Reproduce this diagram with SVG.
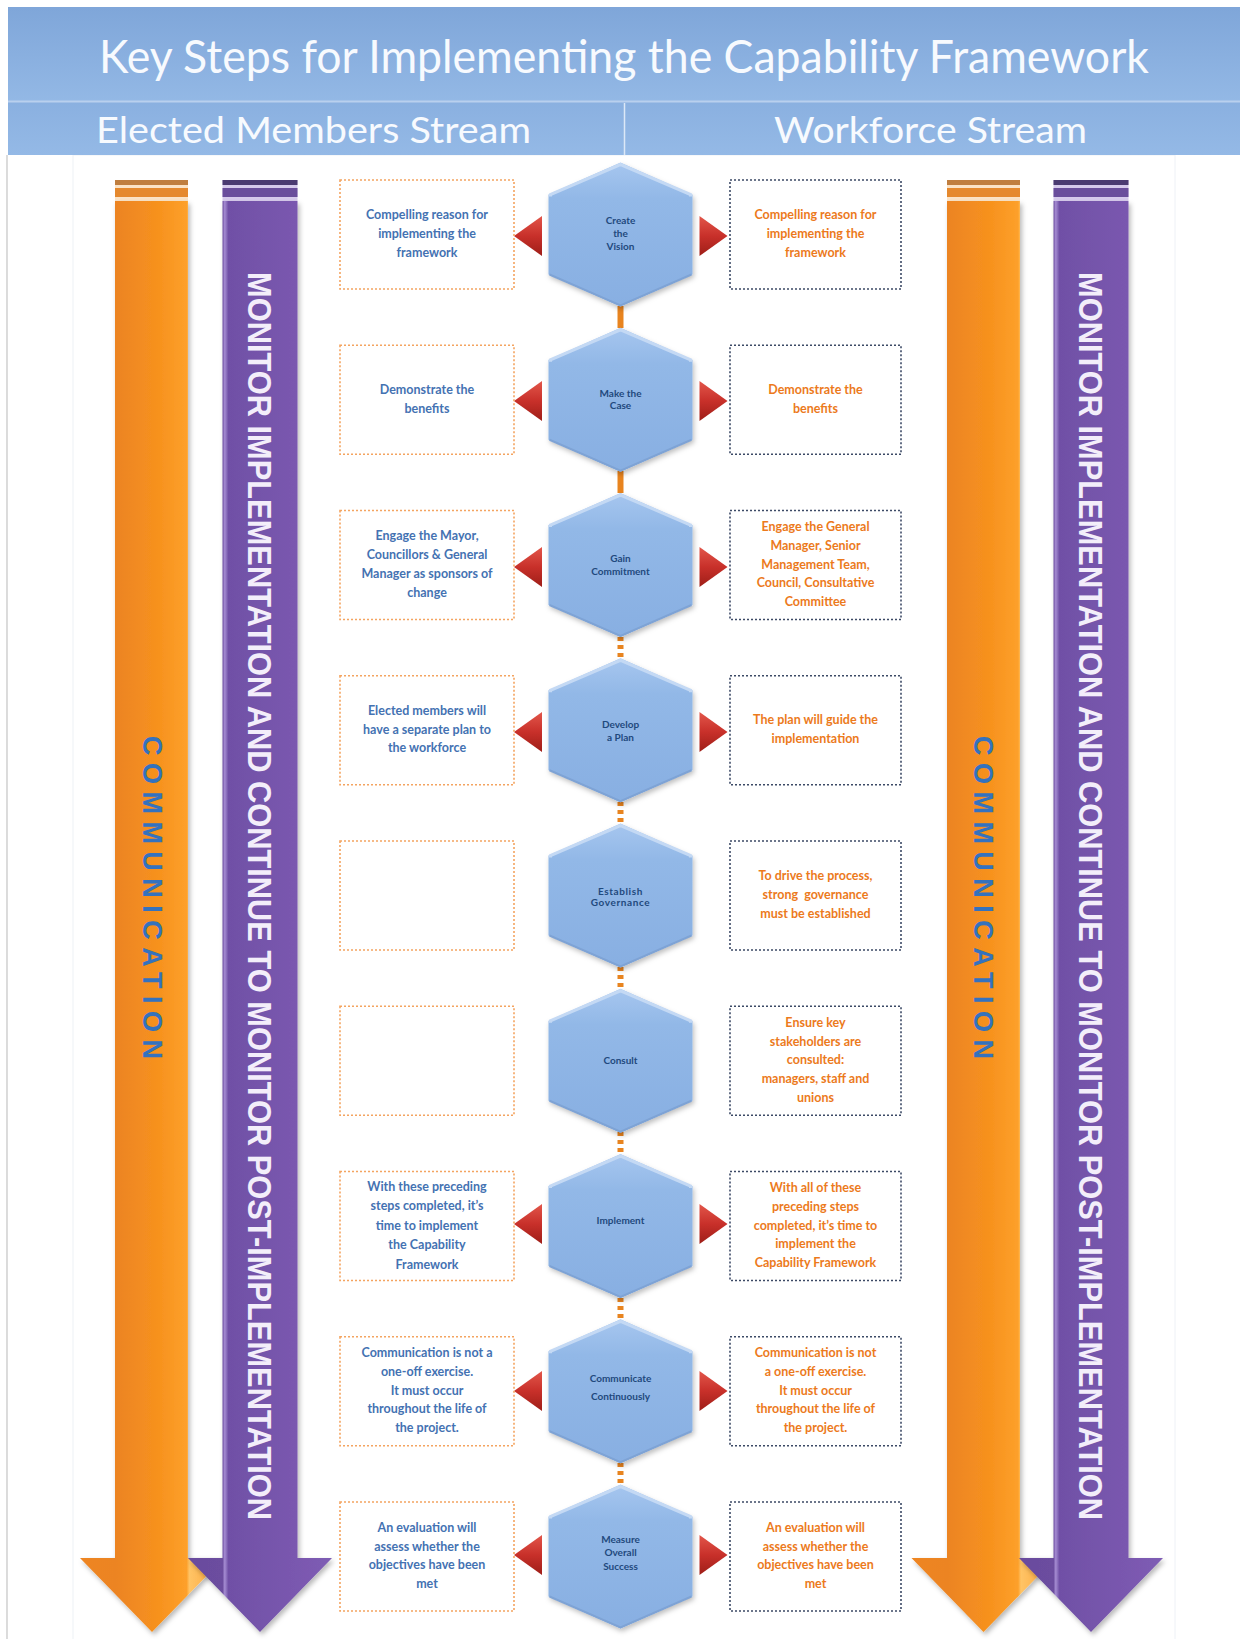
<svg xmlns="http://www.w3.org/2000/svg" xmlns:xlink="http://www.w3.org/1999/xlink" width="1240" height="1639" viewBox="0 0 1240 1639">
<defs>
<style>
.title{font-family:"Lato","Liberation Sans",sans-serif;fill:#F7FAFE;}
.vert{font-family:"Liberation Sans","DejaVu Sans",sans-serif;font-weight:bold;}
.mon{fill:#F3EEFA;font-size:33px;}
.com{fill:#3472BE;font-size:27px;}
.lt{font-family:"Lato","Open Sans",sans-serif;font-weight:bold;font-size:12.5px;fill:#4472B2;text-anchor:middle;}
.rt{font-family:"Lato","Open Sans",sans-serif;font-weight:bold;font-size:12.5px;fill:#EC7A1C;text-anchor:middle;}
.hx{font-family:"Lato","Open Sans",sans-serif;font-weight:bold;font-size:10px;fill:#1F497D;text-anchor:middle;}
.lbox{fill:#FFFFFF;stroke:#F4A460;stroke-width:1.6;stroke-dasharray:2 2;}
.rbox{fill:#FFFFFF;stroke:#3C4A66;stroke-width:1.6;stroke-dasharray:2 2;}
.conn{stroke:#E8841F;stroke-width:6;fill:none;}
.connd{stroke:#E8841F;stroke-width:6;fill:none;stroke-dasharray:4 4;}
</style>
<linearGradient id="hdr" x1="0" y1="0" x2="0" y2="1">
<stop offset="0" stop-color="#7FA6D9"/><stop offset="1" stop-color="#93B8E5"/>
</linearGradient>
<linearGradient id="hdr2" x1="0" y1="0" x2="0" y2="1">
<stop offset="0" stop-color="#8AB0E0"/><stop offset="1" stop-color="#94B9E6"/>
</linearGradient>
<linearGradient id="org" x1="0" y1="0" x2="1" y2="0">
<stop offset="0" stop-color="#EE8520"/><stop offset="0.25" stop-color="#EC8424"/><stop offset="0.55" stop-color="#F7921E"/><stop offset="0.74" stop-color="#FDA02A"/><stop offset="0.76" stop-color="#FFC466"/><stop offset="1" stop-color="#FBA030"/>
</linearGradient>
<linearGradient id="pur" x1="0" y1="0" x2="1" y2="0">
<stop offset="0" stop-color="#6A4B9E"/><stop offset="0.24" stop-color="#6C4D9F"/><stop offset="0.255" stop-color="#A58CD2"/><stop offset="0.28" stop-color="#7050A6"/><stop offset="0.7" stop-color="#7957AE"/><stop offset="1" stop-color="#7E5CB4"/>
</linearGradient>
<linearGradient id="hexg" x1="0" y1="0" x2="0" y2="1">
<stop offset="0" stop-color="#A6C6EF"/><stop offset="0.25" stop-color="#92B8E7"/><stop offset="1" stop-color="#88AFE2"/>
</linearGradient>
<linearGradient id="tri" x1="0" y1="0" x2="0" y2="1">
<stop offset="0" stop-color="#E2564A"/><stop offset="0.5" stop-color="#C8302A"/><stop offset="1" stop-color="#9E1E18"/>
</linearGradient>
<filter id="sh" x="-20%" y="-10%" width="140%" height="120%">
<feDropShadow dx="2" dy="3" stdDeviation="2.5" flood-color="#000000" flood-opacity="0.28"/>
</filter>
<filter id="hsh" x="-20%" y="-20%" width="140%" height="140%">
<feDropShadow dx="1.5" dy="3" stdDeviation="2.5" flood-color="#000000" flood-opacity="0.25"/>
</filter>
<path id="hex" d="M0,-72 L72,-40 L72,40 L0,72 L-72,40 L-72,-40 Z"/>
<path id="hexTop" d="M-70,-38 L-70,-40 L0,-70 L70,-40 L70,-38"/>
<path id="hexBot" d="M-71,40 L0,71 L71,40"/>
<path id="triL" d="M-14,0 L14,-20 L14,20 Z"/>
<path id="triR" d="M14,0 L-14,-20 L-14,20 Z"/>
</defs>

<rect x="0" y="0" width="1240" height="1639" fill="#FFFFFF"/>
<line x1="7" y1="155" x2="7" y2="1639" stroke="#C4C4C4" stroke-width="1.2"/>
<rect x="73" y="155" width="1102" height="1500" fill="none" stroke="#EEF1F6" stroke-width="1"/>

<g id="header">
<rect x="8" y="7" width="1232" height="94" fill="url(#hdr)"/>
<rect x="8" y="101" width="1232" height="54" fill="url(#hdr2)"/>
<line x1="8" y1="101.5" x2="1240" y2="101.5" stroke="#B9D0EE" stroke-width="2"/>
<line x1="624.5" y1="103" x2="624.5" y2="155" stroke="#DCE8F7" stroke-width="1.5"/>
<text class="title" x="99" y="73" font-size="46" textLength="1050" lengthAdjust="spacingAndGlyphs">Key Steps for Implementing the Capability Framework</text>
<text class="title" x="96" y="143" font-size="36" textLength="435" lengthAdjust="spacingAndGlyphs">Elected Members Stream</text>
<text class="title" x="774" y="143" font-size="36" textLength="313" lengthAdjust="spacingAndGlyphs">Workforce Stream</text>
</g>

<g id="comm-left">
<rect x="115" y="180" width="73" height="21" fill="#FBE3C6"/>
<rect x="115" y="180" width="73" height="5" fill="#C07E3E"/>
<rect x="115" y="188" width="73" height="9" fill="#E5892E"/>
<path d="M115,201 L188,201 L188,1558 L224,1558 L152,1632 L80,1558 L115,1558 Z" fill="url(#org)" filter="url(#sh)"/>
<text class="vert com" transform="translate(142.5,736) rotate(90)" textLength="323" lengthAdjust="spacing">COMMUNICATION</text>
</g>
<g id="monitor-left">
<rect x="222.5" y="180" width="75" height="21" fill="#D6CAEC"/>
<rect x="222.5" y="180" width="75" height="5" fill="#4B3B72"/>
<rect x="222.5" y="188" width="75" height="9" fill="#6A4E9C"/>
<path d="M222.5,201 L297.5,201 L297.5,1558 L332,1558 L260,1632 L188,1558 L222.5,1558 Z" fill="url(#pur)" filter="url(#sh)"/>
<text class="vert mon" transform="translate(248.2,272) rotate(90)" textLength="1248" lengthAdjust="spacingAndGlyphs">MONITOR IMPLEMENTATION AND CONTINUE TO MONITOR POST-IMPLEMENTATION</text>
</g>
<g id="comm-right">
<rect x="947" y="180" width="73" height="21" fill="#FBE3C6"/>
<rect x="947" y="180" width="73" height="5" fill="#C07E3E"/>
<rect x="947" y="188" width="73" height="9" fill="#E5892E"/>
<path d="M947,201 L1020,201 L1020,1558 L1055.5,1558 L983.5,1632 L911.5,1558 L947,1558 Z" fill="url(#org)" filter="url(#sh)"/>
<text class="vert com" transform="translate(974,736) rotate(90)" textLength="323" lengthAdjust="spacing">COMMUNICATION</text>
</g>
<g id="monitor-right">
<rect x="1053.5" y="180" width="75" height="21" fill="#D6CAEC"/>
<rect x="1053.5" y="180" width="75" height="5" fill="#4B3B72"/>
<rect x="1053.5" y="188" width="75" height="9" fill="#6A4E9C"/>
<path d="M1053.5,201 L1128.5,201 L1128.5,1558 L1163,1558 L1091,1632 L1019,1558 L1053.5,1558 Z" fill="url(#pur)" filter="url(#sh)"/>
<text class="vert mon" transform="translate(1079.2,272) rotate(90)" textLength="1248" lengthAdjust="spacingAndGlyphs">MONITOR IMPLEMENTATION AND CONTINUE TO MONITOR POST-IMPLEMENTATION</text>
</g>

<g id="connectors">
<line class="conn" x1="620.5" y1="306" x2="620.5" y2="328"/>
<line class="conn" x1="620.5" y1="471" x2="620.5" y2="493"/>
<line class="connd" x1="620.5" y1="637" x2="620.5" y2="659"/>
<line class="connd" x1="620.5" y1="802" x2="620.5" y2="824"/>
<line class="connd" x1="620.5" y1="967" x2="620.5" y2="989"/>
<line class="connd" x1="620.5" y1="1132" x2="620.5" y2="1154"/>
<line class="connd" x1="620.5" y1="1298" x2="620.5" y2="1320"/>
<line class="connd" x1="620.5" y1="1463" x2="620.5" y2="1485"/>
<g fill="url(#tri)">
<use href="#triL" x="528" y="236"/><use href="#triR" x="713.5" y="236"/>
<use href="#triL" x="528" y="401"/><use href="#triR" x="713.5" y="401"/>
<use href="#triL" x="528" y="567"/><use href="#triR" x="713.5" y="567"/>
<use href="#triL" x="528" y="732"/><use href="#triR" x="713.5" y="732"/>
<use href="#triL" x="528" y="1224"/><use href="#triR" x="713.5" y="1224"/>
<use href="#triL" x="528" y="1391"/><use href="#triR" x="713.5" y="1391"/>
<use href="#triL" x="528" y="1555"/><use href="#triR" x="713.5" y="1555"/>
</g>
</g>

<g id="step1">
<g transform="translate(620.5,234.5)"><use href="#hex" fill="url(#hexg)" filter="url(#hsh)"/><use href="#hexTop" fill="none" stroke="#C4D9F4" stroke-width="3"/><use href="#hexBot" fill="none" stroke="#7EA3D5" stroke-width="2"/></g>
<text class="hx" x="620.5" y="223.5">Create</text><text class="hx" x="620.5" y="236.5">the</text><text class="hx" x="620.5" y="249.5">Vision</text>
<rect class="lbox" x="340" y="180" width="174" height="109"/>
<text class="lt" x="427" y="219.3">Compelling reason for</text><text class="lt" x="427" y="238">implementing the</text><text class="lt" x="427" y="256.7">framework</text>
<rect class="rbox" x="730" y="180" width="171" height="109"/>
<text class="rt" x="815.5" y="219.3">Compelling reason for</text><text class="rt" x="815.5" y="238">implementing the</text><text class="rt" x="815.5" y="256.7">framework</text>
</g>

<g id="step2">
<g transform="translate(620.5,399.75)"><use href="#hex" fill="url(#hexg)" filter="url(#hsh)"/><use href="#hexTop" fill="none" stroke="#C4D9F4" stroke-width="3"/><use href="#hexBot" fill="none" stroke="#7EA3D5" stroke-width="2"/></g>
<text class="hx" x="620.5" y="396.5">Make  the</text><text class="hx" x="620.5" y="408.5">Case</text>
<rect class="lbox" x="340" y="345.25" width="174" height="109"/>
<text class="lt" x="427" y="393.9">Demonstrate the</text><text class="lt" x="427" y="412.6">benefits</text>
<rect class="rbox" x="730" y="345.25" width="171" height="109"/>
<text class="rt" x="815.5" y="393.9">Demonstrate the</text><text class="rt" x="815.5" y="412.6">benefits</text>
</g>

<g id="step3">
<g transform="translate(620.5,565)"><use href="#hex" fill="url(#hexg)" filter="url(#hsh)"/><use href="#hexTop" fill="none" stroke="#C4D9F4" stroke-width="3"/><use href="#hexBot" fill="none" stroke="#7EA3D5" stroke-width="2"/></g>
<text class="hx" x="620.5" y="562">Gain</text><text class="hx" x="620.5" y="575">Commitment</text>
<rect class="lbox" x="340" y="510.5" width="174" height="109"/>
<text class="lt" x="427" y="540.45">Engage the Mayor,</text><text class="lt" x="427" y="559.15">Councillors &amp; General</text><text class="lt" x="427" y="577.85">Manager as sponsors of</text><text class="lt" x="427" y="596.55">change</text>
<rect class="rbox" x="730" y="510.5" width="171" height="109"/>
<text class="rt" x="815.5" y="531.1">Engage the General</text><text class="rt" x="815.5" y="549.8">Manager, Senior</text><text class="rt" x="815.5" y="568.5">Management Team,</text><text class="rt" x="815.5" y="587.2">Council, Consultative</text><text class="rt" x="815.5" y="605.9">Committee</text>
</g>

<g id="step4">
<g transform="translate(620.5,730.25)"><use href="#hex" fill="url(#hexg)" filter="url(#hsh)"/><use href="#hexTop" fill="none" stroke="#C4D9F4" stroke-width="3"/><use href="#hexBot" fill="none" stroke="#7EA3D5" stroke-width="2"/></g>
<text class="hx" x="620.5" y="728">Develop</text><text class="hx" x="620.5" y="741">a Plan</text>
<rect class="lbox" x="340" y="675.75" width="174" height="109"/>
<text class="lt" x="427" y="715.05">Elected members will</text><text class="lt" x="427" y="733.75">have a separate plan to</text><text class="lt" x="427" y="752.45">the workforce</text>
<rect class="rbox" x="730" y="675.75" width="171" height="109"/>
<text class="rt" x="815.5" y="724.4">The plan will guide the</text><text class="rt" x="815.5" y="743.1">implementation</text>
</g>

<g id="step5">
<g transform="translate(620.5,895.5)"><use href="#hex" fill="url(#hexg)" filter="url(#hsh)"/><use href="#hexTop" fill="none" stroke="#C4D9F4" stroke-width="3"/><use href="#hexBot" fill="none" stroke="#7EA3D5" stroke-width="2"/></g>
<text class="hx" x="620.5" y="895" font-size="8.5" letter-spacing="0.6">Establish</text><text class="hx" x="620.5" y="906" font-size="8.5" letter-spacing="0.6">Governance</text>
<rect class="lbox" x="340" y="841" width="174" height="109"/>
<rect class="rbox" x="730" y="841" width="171" height="109"/>
<text class="rt" x="815.5" y="880.3">To drive the process,</text><text class="rt" x="815.5" y="899" xml:space="preserve">strong  governance</text><text class="rt" x="815.5" y="917.7">must be established</text>
</g>

<g id="step6">
<g transform="translate(620.5,1060.75)"><use href="#hex" fill="url(#hexg)" filter="url(#hsh)"/><use href="#hexTop" fill="none" stroke="#C4D9F4" stroke-width="3"/><use href="#hexBot" fill="none" stroke="#7EA3D5" stroke-width="2"/></g>
<text class="hx" x="620.5" y="1064">Consult</text>
<rect class="lbox" x="340" y="1006.25" width="174" height="109"/>
<rect class="rbox" x="730" y="1006.25" width="171" height="109"/>
<text class="rt" x="815.5" y="1026.85">Ensure key</text><text class="rt" x="815.5" y="1045.55">stakeholders are</text><text class="rt" x="815.5" y="1064.25">consulted:</text><text class="rt" x="815.5" y="1082.95">managers, staff and</text><text class="rt" x="815.5" y="1101.65">unions</text>
</g>

<g id="step7">
<g transform="translate(620.5,1226)"><use href="#hex" fill="url(#hexg)" filter="url(#hsh)"/><use href="#hexTop" fill="none" stroke="#C4D9F4" stroke-width="3"/><use href="#hexBot" fill="none" stroke="#7EA3D5" stroke-width="2"/></g>
<text class="hx" x="620.5" y="1224">Implement</text>
<rect class="lbox" x="340" y="1171.5" width="174" height="109"/>
<text class="lt" x="427" y="1190.5">With these preceding</text><text class="lt" x="427" y="1210">steps completed, it’s</text><text class="lt" x="427" y="1229.5">time to implement</text><text class="lt" x="427" y="1249">the Capability</text><text class="lt" x="427" y="1268.5">Framework</text>
<rect class="rbox" x="730" y="1171.5" width="171" height="109"/>
<text class="rt" x="815.5" y="1192.1">With all of these</text><text class="rt" x="815.5" y="1210.8">preceding steps</text><text class="rt" x="815.5" y="1229.5">completed, it’s time to</text><text class="rt" x="815.5" y="1248.2">implement the</text><text class="rt" x="815.5" y="1266.9">Capability Framework</text>
</g>

<g id="step8">
<g transform="translate(620.5,1391.25)"><use href="#hex" fill="url(#hexg)" filter="url(#hsh)"/><use href="#hexTop" fill="none" stroke="#C4D9F4" stroke-width="3"/><use href="#hexBot" fill="none" stroke="#7EA3D5" stroke-width="2"/></g>
<text class="hx" x="620.5" y="1382" font-size="10.5">Communicate</text><text class="hx" x="620.5" y="1400" font-size="10.5">Continuously</text>
<rect class="lbox" x="340" y="1336.75" width="174" height="109"/>
<text class="lt" x="427" y="1357.35">Communication is not a</text><text class="lt" x="427" y="1376.05">one-off exercise.</text><text class="lt" x="427" y="1394.75">It must occur</text><text class="lt" x="427" y="1413.45">throughout the life of</text><text class="lt" x="427" y="1432.15">the project.</text>
<rect class="rbox" x="730" y="1336.75" width="171" height="109"/>
<text class="rt" x="815.5" y="1357.35">Communication is not</text><text class="rt" x="815.5" y="1376.05">a one-off exercise.</text><text class="rt" x="815.5" y="1394.75">It must occur</text><text class="rt" x="815.5" y="1413.45">throughout the life of</text><text class="rt" x="815.5" y="1432.15">the project.</text>
</g>

<g id="step9">
<g transform="translate(620.5,1556.5)"><use href="#hex" fill="url(#hexg)" filter="url(#hsh)"/><use href="#hexTop" fill="none" stroke="#C4D9F4" stroke-width="3"/><use href="#hexBot" fill="none" stroke="#7EA3D5" stroke-width="2"/></g>
<text class="hx" x="620.5" y="1542.5">Measure</text><text class="hx" x="620.5" y="1556">Overall</text><text class="hx" x="620.5" y="1569.5">Success</text>
<rect class="lbox" x="340" y="1502" width="174" height="109"/>
<text class="lt" x="427" y="1531.95">An evaluation will</text><text class="lt" x="427" y="1550.65">assess  whether the</text><text class="lt" x="427" y="1569.35">objectives have been</text><text class="lt" x="427" y="1588.05">met</text>
<rect class="rbox" x="730" y="1502" width="171" height="109"/>
<text class="rt" x="815.5" y="1531.95">An evaluation will</text><text class="rt" x="815.5" y="1550.65">assess  whether the</text><text class="rt" x="815.5" y="1569.35">objectives have been</text><text class="rt" x="815.5" y="1588.05">met</text>
</g>
</svg>
